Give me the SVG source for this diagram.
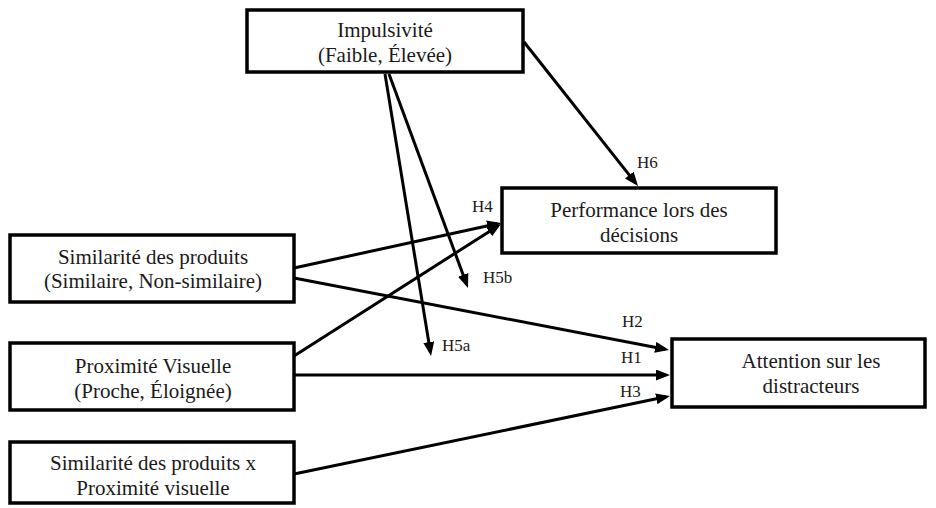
<svg xmlns="http://www.w3.org/2000/svg" width="936" height="508" viewBox="0 0 936 508">
<style>
.box{fill:#fff;stroke:#000;stroke-width:3.5}
.t{font-size:21px;fill:#1a1a1a;text-anchor:middle}
.l{font-size:17px;fill:#1a1a1a}
.c{stroke:#000;stroke-width:3;fill:none;marker-end:url(#ah)}
</style>
<defs>
<marker id="ah" markerUnits="userSpaceOnUse" markerWidth="14" markerHeight="11" refX="10" refY="5.5" orient="auto">
<path d="M0,0 L14,5.5 L0,11 z" fill="#000"/>
</marker>
</defs>
<rect width="936" height="508" fill="#fff"/>
<g id="connectors">
<line class="c" x1="524" y1="42" x2="635.5" y2="182.9"/>
<line class="c" x1="385" y1="74" x2="430.4" y2="352"/>
<line class="c" x1="389" y1="74" x2="466.6" y2="284.2"/>
<line class="c" x1="294" y1="268" x2="497.1" y2="223.8"/>
<line class="c" x1="294" y1="356" x2="497.6" y2="226.2"/>
<line class="c" x1="294" y1="278" x2="665.1" y2="349.2"/>
<line class="c" x1="294" y1="375" x2="666" y2="375"/>
<line class="c" x1="294" y1="474" x2="666.1" y2="396.8"/>
</g>
<g font-family="Liberation Serif, Times New Roman, serif">
<g id="labels">
<text class="l" x="637" y="168">H6</text>
<text class="l" x="472" y="212">H4</text>
<text class="l" x="483" y="283">H5b</text>
<text class="l" x="442" y="351">H5a</text>
<text class="l" x="622" y="327">H2</text>
<text class="l" x="621" y="363">H1</text>
<text class="l" x="620" y="397">H3</text>
</g>
<g id="impulsivite">
<rect class="box" x="247" y="10" width="276" height="62"/>
<text class="t" x="385" y="37">Impulsivité</text>
<text class="t" x="385" y="62">(Faible, Élevée)</text>
</g>
<g id="performance">
<rect class="box" x="502" y="188" width="274" height="65"/>
<text class="t" x="639" y="217">Performance lors des</text>
<text class="t" x="639" y="242">décisions</text>
</g>
<g id="similarite">
<rect class="box" x="10" y="235" width="284" height="67"/>
<text class="t" x="153" y="264">Similarité des produits</text>
<text class="t" x="153" y="288">(Similaire, Non-similaire)</text>
</g>
<g id="proximite">
<rect class="box" x="10" y="343" width="284" height="67"/>
<text class="t" x="153" y="373">Proximité Visuelle</text>
<text class="t" x="153" y="398">(Proche, Éloignée)</text>
</g>
<g id="interaction">
<rect class="box" x="10" y="442" width="284" height="61"/>
<text class="t" x="153" y="470">Similarité des produits x</text>
<text class="t" x="153" y="495">Proximité visuelle</text>
</g>
<g id="attention">
<rect class="box" x="672" y="339" width="253" height="68"/>
<text class="t" x="811" y="368">Attention sur les</text>
<text class="t" x="811" y="393">distracteurs</text>
</g>
</g>
</svg>
